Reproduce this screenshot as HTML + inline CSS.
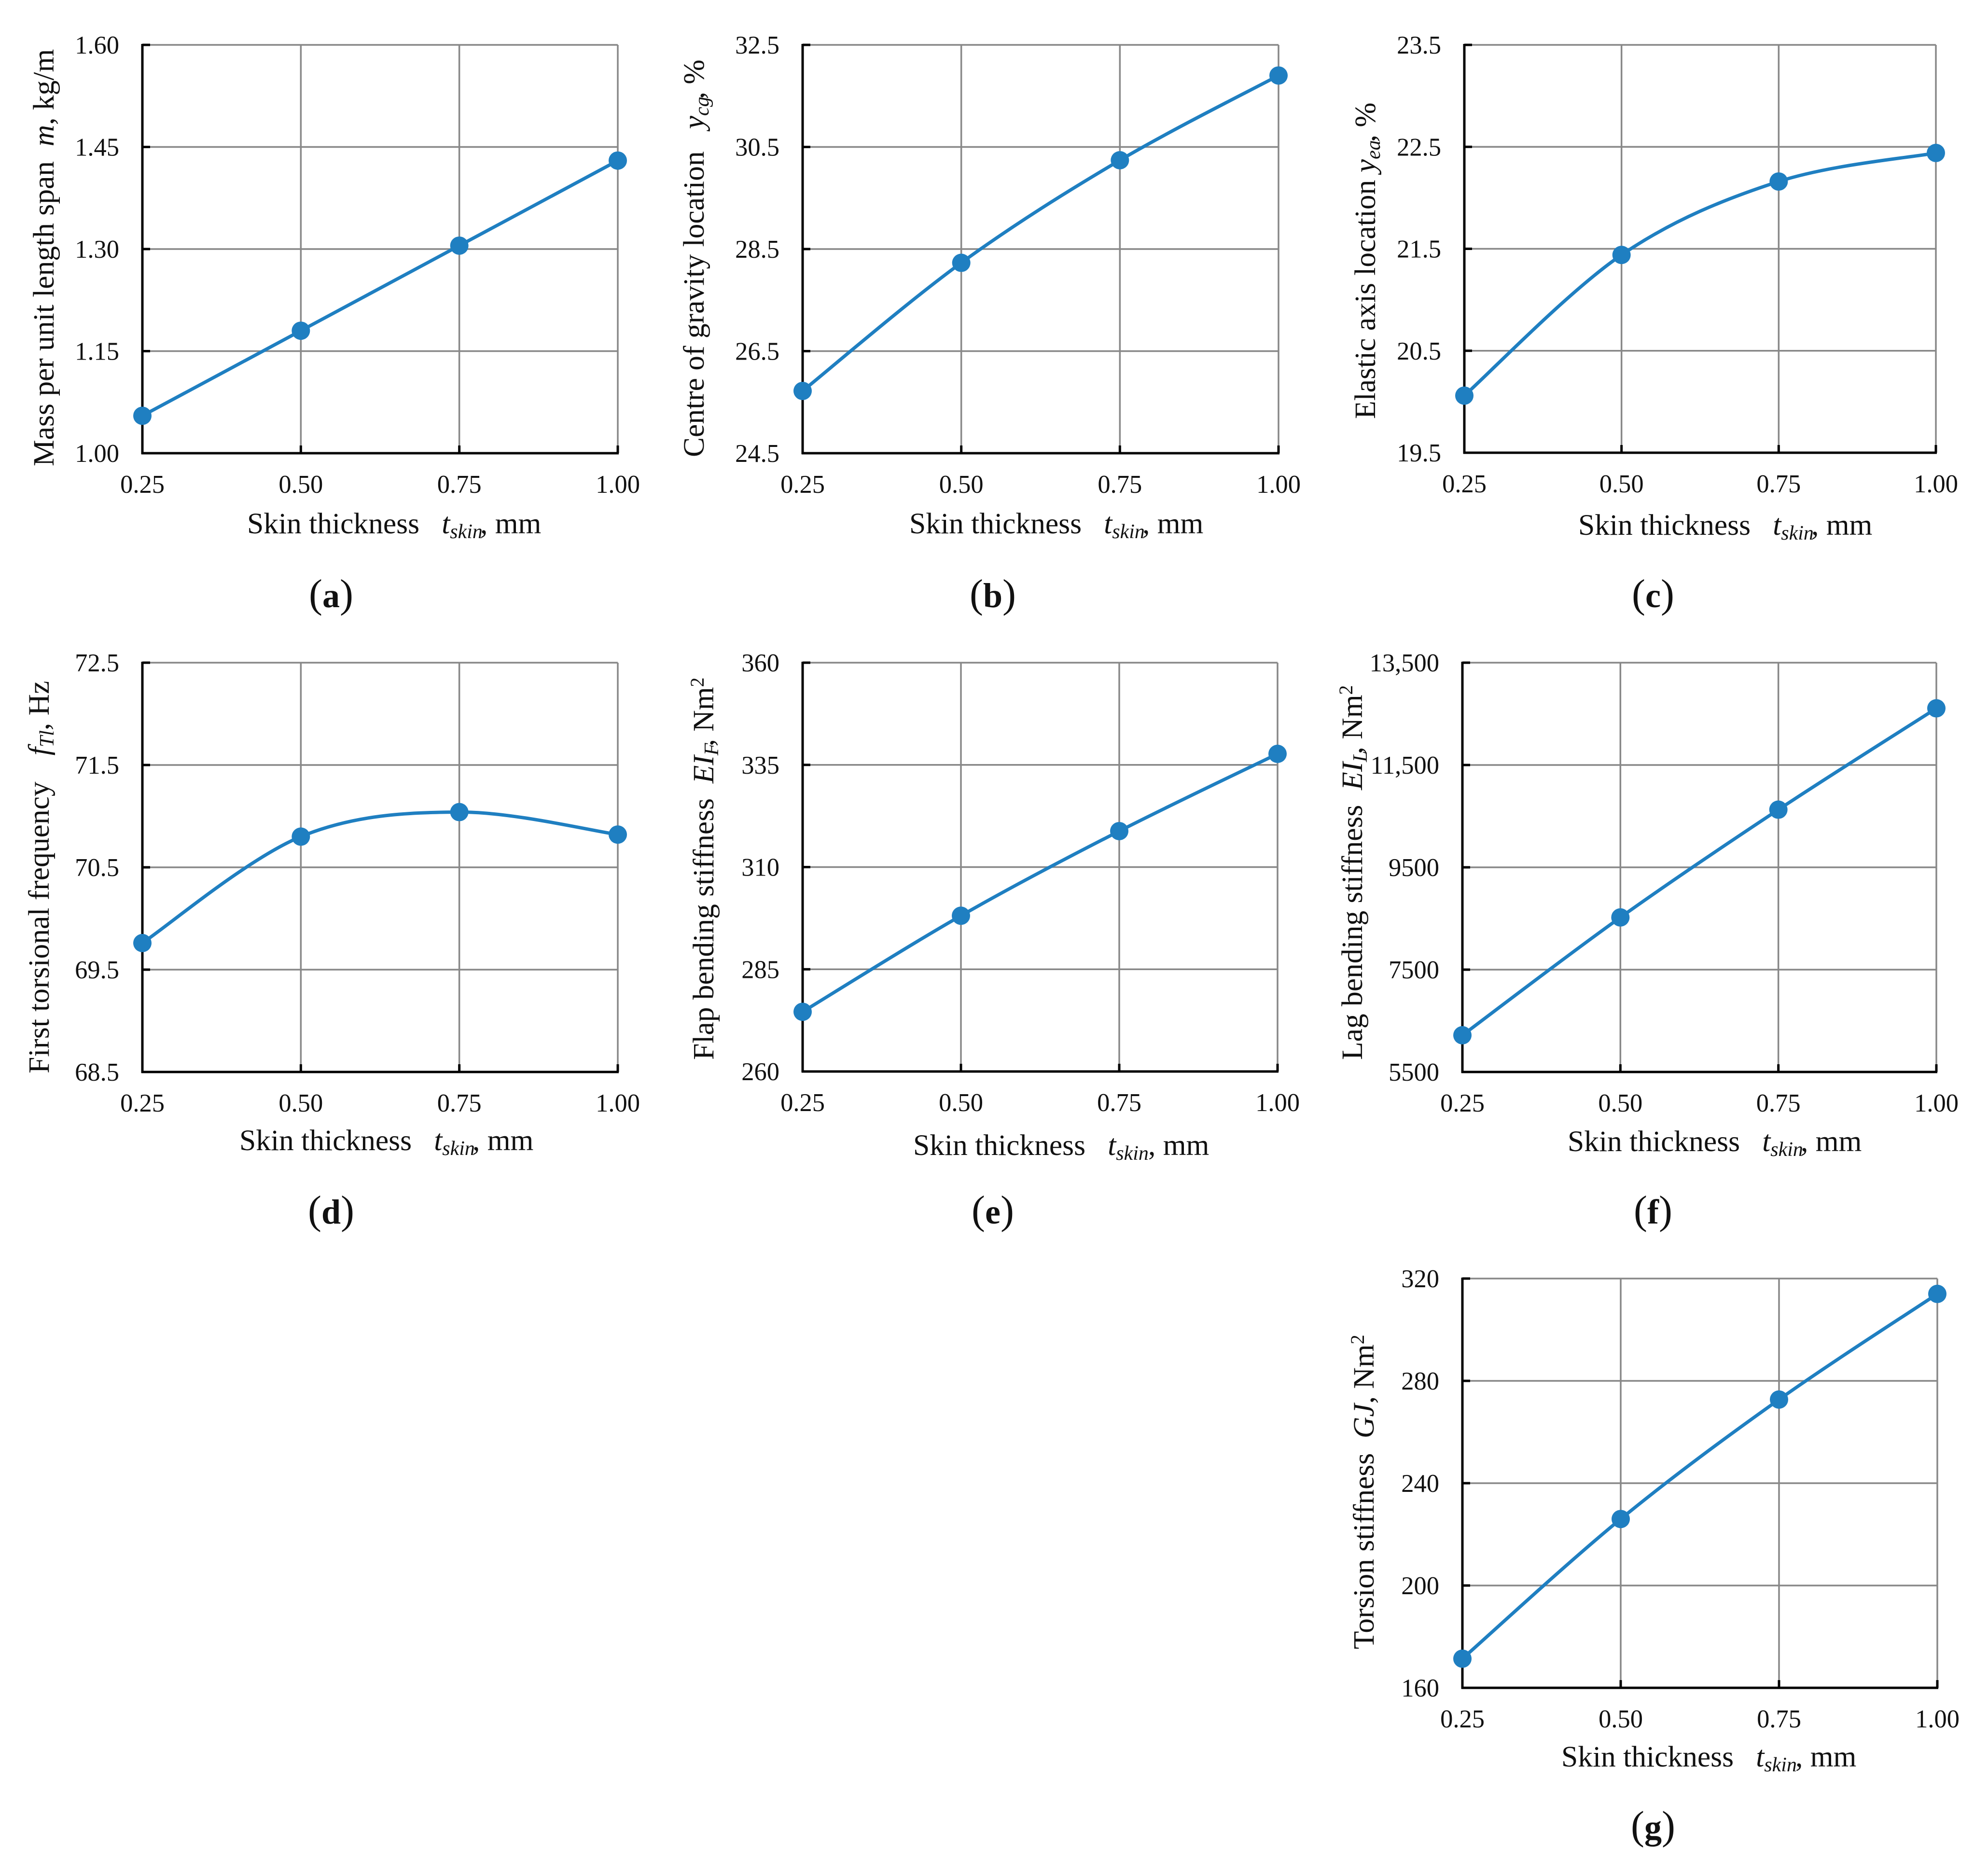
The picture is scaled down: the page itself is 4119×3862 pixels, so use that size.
<!DOCTYPE html>
<html lang="en">
<head>
<meta charset="utf-8">
<title>Effect of skin thickness on blade properties</title>
<style>
html,body{margin:0;padding:0;background:#fff;}
svg{display:block;}
text{font-family:"Liberation Serif",serif;fill:#111;white-space:pre;}
.axis-title{font-size:61.5px;}
.sub{font-size:42px;font-style:italic;}
.it{font-style:italic;}
.sup{font-size:40px;}
.cap{font-size:84px;text-anchor:middle;}
.cap-b{font-weight:bold;font-size:72px;}
</style>
</head>
<body>
<svg id="figure" xmlns="http://www.w3.org/2000/svg" width="4119" height="3862" viewBox="0 0 4119 3862">
<rect width="4119" height="3862" fill="#fff"/>

<text class="axis-title" transform="translate(111,966) rotate(-90)">Mass per unit length span  <tspan class="it">m</tspan>, kg/m</text>
<text class="axis-title" transform="translate(1458,947) rotate(-90)">Centre of gravity location   <tspan class="it">y</tspan><tspan class="sub" dy="10">cg</tspan><tspan dy="-10" dx="-5">, %</tspan></text>
<text class="axis-title" transform="translate(2849,868) rotate(-90)">Elastic axis location <tspan class="it">y</tspan><tspan class="sub" dy="10">ea</tspan><tspan dy="-10" dx="-4">, %</tspan></text>
<text class="axis-title" transform="translate(101,2224) rotate(-90)">First torsional frequency   <tspan class="it" dx="8">f</tspan><tspan class="sub" dy="10">Tl</tspan><tspan dy="-10">, Hz</tspan></text>
<text class="axis-title" transform="translate(1478,2196) rotate(-90)">Flap bending stiffness  <tspan class="it">EI</tspan><tspan class="sub" dy="10">F</tspan><tspan dy="-10" dx="-7">, Nm</tspan><tspan class="sup" dy="-20">2</tspan></text>
<text class="axis-title" transform="translate(2822,2196) rotate(-90)">Lag bending stiffness  <tspan class="it">EI</tspan><tspan class="sub" dy="10">L</tspan><tspan dy="-10" dx="-7">, Nm</tspan><tspan class="sup" dy="-20">2</tspan></text>
<text class="axis-title" transform="translate(2846,3417) rotate(-90)">Torsion stiffness  <tspan class="it">GJ</tspan>, Nm<tspan class="sup" dy="-20">2</tspan></text>

<text class="axis-title" x="512" y="1105">Skin thickness   <tspan class="it">t</tspan><tspan class="sub" dy="10">skin</tspan><tspan dy="-10" dx="-5">, mm</tspan></text>
<text class="axis-title" x="1884" y="1105">Skin thickness   <tspan class="it">t</tspan><tspan class="sub" dy="10">skin</tspan><tspan dy="-10" dx="-5">, mm</tspan></text>
<text class="axis-title" x="3270" y="1108">Skin thickness   <tspan class="it">t</tspan><tspan class="sub" dy="10">skin</tspan><tspan dy="-10" dx="-5">, mm</tspan></text>
<text class="axis-title" x="496" y="2383">Skin thickness   <tspan class="it">t</tspan><tspan class="sub" dy="10">skin</tspan><tspan dy="-10" dx="-5">, mm</tspan></text>
<text class="axis-title" x="1892" y="2393">Skin thickness   <tspan class="it">t</tspan><tspan class="sub" dy="10">skin</tspan><tspan dy="-10" dx="-1">, mm</tspan></text>
<text class="axis-title" x="3248" y="2385">Skin thickness   <tspan class="it">t</tspan><tspan class="sub" dy="10">skin</tspan><tspan dy="-10" dx="-5">, mm</tspan></text>
<text class="axis-title" x="3235" y="3660">Skin thickness   <tspan class="it">t</tspan><tspan class="sub" dy="10">skin</tspan><tspan dy="-10" dx="-3">, mm</tspan></text>

<text class="cap" x="686" y="1258">(<tspan class="cap-b">a</tspan>)</text>
<text class="cap" x="2057" y="1258">(<tspan class="cap-b">b</tspan>)</text>
<text class="cap" x="3425" y="1258">(<tspan class="cap-b">c</tspan>)</text>
<text class="cap" x="686" y="2535">(<tspan class="cap-b">d</tspan>)</text>
<text class="cap" x="2057" y="2535">(<tspan class="cap-b">e</tspan>)</text>
<text class="cap" x="3425" y="2535">(<tspan class="cap-b">f</tspan>)</text>
<text class="cap" x="3425" y="3810">(<tspan class="cap-b">g</tspan>)</text>
</svg>

<script>
const thicknessCategories = ['0.25', '0.50', '0.75', '1.00'];

const massValues = [1.055, 1.18, 1.305, 1.43];
const massTicks = ['1.00', '1.15', '1.30', '1.45', '1.60'];

const cgValues = [25.72, 28.23, 30.24, 31.9];
const cgTicks = ['24.5', '26.5', '28.5', '30.5', '32.5'];

const elasticValues = [20.06, 21.44, 22.16, 22.44];
const elasticTicks = ['19.5', '20.5', '21.5', '22.5', '23.5'];

const torsionFreqValues = [69.76, 70.80, 71.04, 70.82];
const torsionFreqTicks = ['68.5', '69.5', '70.5', '71.5', '72.5'];

const flapValues = [274.6, 298.1, 318.8, 337.7];
const flapTicks = ['260', '285', '310', '335', '360'];

const lagValues = [6218, 8521, 10627, 12608];
const lagTicks = ['5500', '7500', '9500', '11,500', '13,500'];

const torsionValues = [171.4, 226, 272.7, 314];
const torsionTicks = ['160', '200', '240', '280', '320'];

const SVG_NS = 'http://www.w3.org/2000/svg';
const figure = document.getElementById('figure');

function make(tag, attrs, parent) {
  const el = document.createElementNS(SVG_NS, tag);
  for (const k in attrs) el.setAttribute(k, attrs[k]);
  parent.appendChild(el);
  return el;
}

function smoothPath(pts) {
  let d = 'M' + pts[0][0] + ' ' + pts[0][1];
  for (let i = 0; i < pts.length - 1; i++) {
    const p0 = pts[Math.max(i - 1, 0)];
    const p1 = pts[i];
    const p2 = pts[i + 1];
    const p3 = pts[Math.min(i + 2, pts.length - 1)];
    const c1x = p1[0] + (p2[0] - p0[0]) / 6;
    const c1y = p1[1] + (p2[1] - p0[1]) / 6;
    const c2x = p2[0] - (p3[0] - p1[0]) / 6;
    const c2y = p2[1] - (p3[1] - p1[1]) / 6;
    d += ' C' + c1x + ' ' + c1y + ' ' + c2x + ' ' + c2y + ' ' + p2[0] + ' ' + p2[1];
  }
  return d;
}

function drawPanel(id, left, right, top, bottom, categories, values, ticks) {
  const group = make('g', {}, figure);
  
  

  const tickNums = ticks.map(t => Number(t.replace(',', '')));
  const yMin = tickNums[0];
  const yMax = tickNums[tickNums.length - 1];
  const catNums = categories.map(Number);
  const xMin = catNums[0];
  const xMax = catNums[catNums.length - 1];
  const xScale = v => left + (v - xMin) / (xMax - xMin) * (right - left);
  const yScale = v => bottom - (v - yMin) / (yMax - yMin) * (bottom - top);

  tickNums.forEach((v, i) => {
    const y = yScale(v);
    if (i > 0) {
      const grid = make('line', {x1: left, x2: right, y1: y, y2: y, stroke: '#888888', 'stroke-width': 3.5}, group);
      
      
    }
    const label = make('text', {x: left - 48, y: y + 18, 'text-anchor': 'end', 'font-size': 52.5}, group);
    label.textContent = ticks[i];
    
    
  });

  catNums.forEach((v, i) => {
    const x = xScale(v);
    if (i > 0) {
      const grid = make('line', {x1: x, x2: x, y1: top, y2: bottom, stroke: '#888888', 'stroke-width': 3.5}, group);
      
      
    }
    const label = make('text', {x: x, y: bottom + 82, 'text-anchor': 'middle', 'font-size': 52.5}, group);
    label.textContent = categories[i];
    
    
  });

  const yAxis = make('line', {x1: left, x2: left, y1: top - 2, y2: bottom + 2, stroke: '#000', 'stroke-width': 5}, group);
  
  
  const xAxis = make('line', {x1: left - 2, x2: right + 2, y1: bottom, y2: bottom, stroke: '#000', 'stroke-width': 5}, group);
  
  

  tickNums.forEach(v => {
    const y = yScale(v);
    const tick = make('line', {x1: left, x2: left + 16, y1: y, y2: y, stroke: '#000', 'stroke-width': 5}, group);
    
    
  });
  catNums.forEach(v => {
    const x = xScale(v);
    const tick = make('line', {x1: x, x2: x, y1: bottom, y2: bottom - 16, stroke: '#000', 'stroke-width': 5}, group);
    
    
  });

  const pts = values.map((v, i) => [xScale(catNums[i]), yScale(v)]);
  const line = make('path', {d: smoothPath(pts), fill: 'none', stroke: '#1f7fc1', 'stroke-width': 7, 'stroke-linecap': 'round'}, group);
  
  

  pts.forEach(p => {
    const dot = make('circle', {cx: p[0], cy: p[1], r: 19, fill: '#1f7fc1'}, group);
    
    
  });
}

drawPanel('a', 295, 1280, 93, 939, thicknessCategories, massValues, massTicks);
drawPanel('b', 1663, 2649, 93, 939, thicknessCategories, cgValues, cgTicks);
drawPanel('c', 3034, 4011, 93, 938, thicknessCategories, elasticValues, elasticTicks);
drawPanel('d', 295, 1280, 1373, 2221, thicknessCategories, torsionFreqValues, torsionFreqTicks);
drawPanel('e', 1663, 2647, 1373, 2220, thicknessCategories, flapValues, flapTicks);
drawPanel('f', 3030, 4012, 1373, 2221, thicknessCategories, lagValues, lagTicks);
drawPanel('g', 3030, 4014, 2649, 3497, thicknessCategories, torsionValues, torsionTicks);
</script>
</body>
</html>
